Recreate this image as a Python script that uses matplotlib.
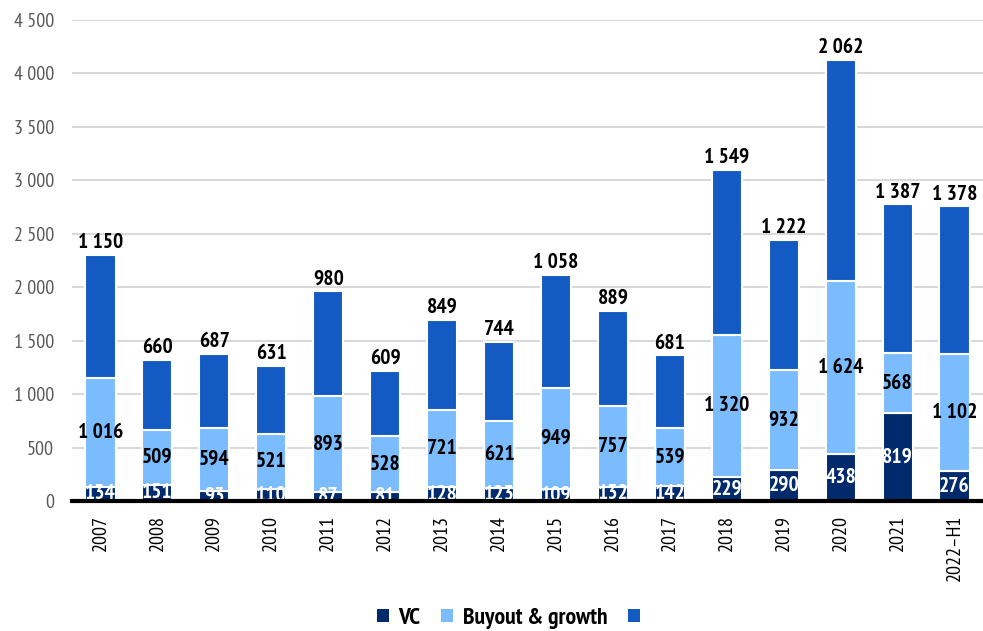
import matplotlib
matplotlib.use("Agg")
import matplotlib.pyplot as plt
import numpy as np
import warnings
warnings.filterwarnings("ignore")

years = ["2007", "2008", "2009", "2010", "2011", "2012", "2013", "2014", "2015",
         "2016", "2017", "2018", "2019", "2020", "2021", "2022\u2013H1"]
vc = [134, 151, 93, 110, 87, 81, 128, 123, 109, 132, 142, 229, 290, 438, 819, 276]
buyout = [1016, 509, 594, 521, 893, 528, 721, 621, 949, 757, 539, 1320, 932, 1624, 568, 1102]
third = [1150, 660, 687, 631, 980, 609, 849, 744, 1058, 889, 681, 1549, 1222, 2062, 1387, 1378]
yticks = [0, 500, 1000, 1500, 2000, 2500, 3000, 3500, 4000, 4500]

plt.rcParams['font.family'] = ['PT Sans Narrow', 'Fira Sans Condensed', 'Roboto Condensed',
                               'Archivo Narrow', 'DejaVu Sans']

c_vc = "#002a6c"
c_bo = "#7bbcff"
c_th = "#135bc2"

def fmt(v):
    return f"{v:,}".replace(",", " ")

fig = plt.figure(figsize=(9.83, 6.31), dpi=100)
ax = fig.add_axes([72 / 983, 1 - 501 / 631, 1 - 72 / 983, (501 - 20) / 631])

x = np.arange(len(years))
w = 0.53
b1 = ax.bar(x, vc, w, color=c_vc, edgecolor="white", linewidth=1.5, label="VC", zorder=3)
b2 = ax.bar(x, buyout, w, bottom=vc, color=c_bo, edgecolor="white", linewidth=1.5,
            label="Buyout & growth", zorder=3)
bot3 = np.array(vc) + np.array(buyout)
b3 = ax.bar(x, third, w, bottom=bot3, color=c_th, edgecolor="white", linewidth=1.5,
            label=" ", zorder=3)

fs = 15.5
for i in range(len(years)):
    ax.text(x[i], vc[i] / 2, fmt(vc[i]), ha="center", va="center", color="white",
            fontsize=fs, fontweight="bold", zorder=4)
    ax.text(x[i], vc[i] + buyout[i] / 2, fmt(buyout[i]), ha="center", va="center",
            color="black", fontsize=fs, fontweight="bold", zorder=4)
    ax.annotate(fmt(third[i]), (x[i], bot3[i] + third[i]), xytext=(0, 2),
                textcoords="offset points", ha="center", va="bottom",
                color="black", fontsize=fs, fontweight="bold", zorder=4)

ax.set_ylim(0, 4500)
ax.set_xlim(-0.5, 15.5)
ax.set_yticks(yticks)
ax.set_yticklabels([fmt(v) for v in yticks], fontsize=14.5, color="#595959")
ax.set_xticks(x)
ax.set_xticklabels(years, rotation=90, fontsize=14.5, color="black")
ax.tick_params(axis="both", length=0)
ax.tick_params(axis="y", pad=13)
ax.tick_params(axis="x", pad=10)
ax.grid(axis="y", color="#d9d9d9", linewidth=1.5, zorder=0)
ax.set_axisbelow(True)
for s in ["top", "right", "left"]:
    ax.spines[s].set_visible(False)
ax.spines["bottom"].set_color("black")
ax.spines["bottom"].set_linewidth(3)
ax.spines["bottom"].set_zorder(5)

leg = fig.legend(handles=[b1, b2, b3], labels=["VC", "Buyout & growth", ""],
                 loc="center", bbox_to_anchor=(0.522, 0.02), ncol=3, frameon=False,
                 prop={"size": 17, "weight": "bold"}, handlelength=0.5, handleheight=0.5,
                 handletextpad=0.4, columnspacing=0.9)
for h in leg.legend_handles:
    h.set_linewidth(0)

fig.savefig("out.png", dpi=100)
